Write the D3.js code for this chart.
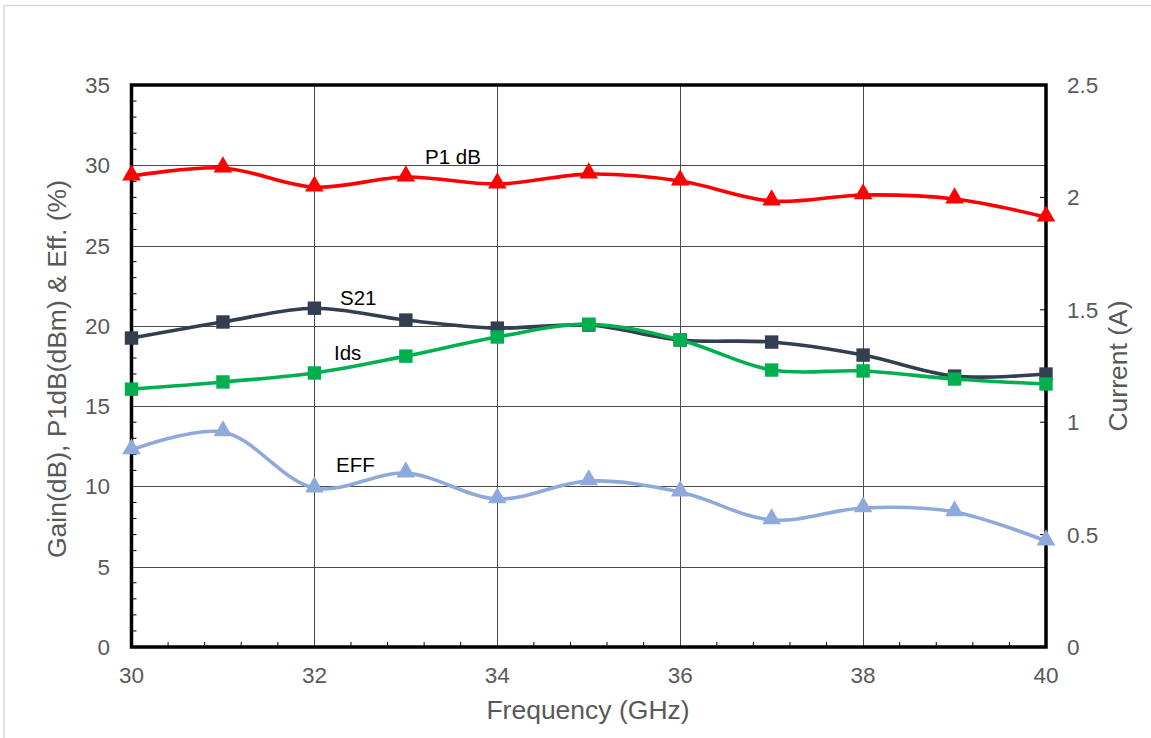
<!DOCTYPE html>
<html><head><meta charset="utf-8">
<script src="https://cdn.jsdelivr.net/npm/d3@7"></script>
<style>body{margin:0;background:#fff;}svg{display:block;font-family:Arial,"Liberation Sans",sans-serif;}</style>
</head><body>
<svg id="c" width="1151" height="738"></svg>
<script>
const freq = [30,31,32,33,34,35,36,37,38,39,40];
const p1db = [29.33,29.83,28.64,29.27,28.83,29.45,29.02,27.77,28.15,27.9,26.77];
const s21  = [19.24,20.24,21.1,20.36,19.86,20.05,19.12,18.99,18.18,16.87,17.0];
const ids  = [1.147,1.179,1.219,1.294,1.379,1.436,1.366,1.232,1.228,1.192,1.17];
const eff  = [12.27,13.39,9.9,10.83,9.22,10.34,9.65,7.91,8.66,8.41,6.6];
const leftTicks = [0,5,10,15,20,25,30,35];
const rightTicks = [0,0.5,1,1.5,2,2.5];
const xTicks = [30,32,34,36,38,40];

const svg = d3.select("#c");
const L=131.5, R=1046, T=85, B=647;
const x = d3.scaleLinear().domain([30,40]).range([L,R]);
const yl = d3.scaleLinear().domain([0,35]).range([B,T]);
const yr = d3.scaleLinear().domain([0,2.5]).range([B,T]);

// outer border
svg.append("path").attr("d","M4,745V5.5H1160").attr("fill","none").attr("stroke","#d9d9d9").attr("stroke-width",1.5);

const g = svg.append("g");
// gridlines
g.selectAll(".hg").data(leftTicks.filter(d=>d>0&&d<35)).join("line")
  .attr("x1",L).attr("x2",R).attr("y1",d=>Math.round(yl(d))+0.5).attr("y2",d=>Math.round(yl(d))+0.5)
  .attr("stroke","#4a4a4a").attr("stroke-width",1);
g.selectAll(".vg").data(xTicks.filter(d=>d>30&&d<40)).join("line")
  .attr("y1",T).attr("y2",B).attr("x1",d=>Math.round(x(d))+0.5).attr("x2",d=>Math.round(x(d))+0.5)
  .attr("stroke","#4a4a4a").attr("stroke-width",1);

// minor ticks left (every 1)
const lm = d3.range(1,35).filter(d=>d%5!==0);
g.selectAll(".lm").data(lm).join("line")
  .attr("x1",L).attr("x2",L+5).attr("y1",d=>yl(d)).attr("y2",d=>yl(d)).attr("stroke","#000").attr("stroke-width",1);
// minor ticks bottom (every 0.4)
const bm = d3.range(0,25).map(i=>30+i*0.4).filter((d,i)=>i%5!==0);
g.selectAll(".bm").data(bm).join("line")
  .attr("x1",d=>x(d)).attr("x2",d=>x(d)).attr("y1",B).attr("y2",B-5).attr("stroke","#000").attr("stroke-width",1);
// right ticks
g.selectAll(".rt").data(rightTicks.filter(d=>d>0&&d<2.5)).join("line")
  .attr("x1",R).attr("x2",R-6).attr("y1",d=>yr(d)).attr("y2",d=>yr(d)).attr("stroke","#000").attr("stroke-width",1);

// frame
g.append("rect").attr("x",L).attr("y",T).attr("width",R-L).attr("height",B-T)
  .attr("fill","none").attr("stroke","#000").attr("stroke-width",3.5);

// tick labels
const tc="#595959";
const tf=22.5;
g.selectAll(".ltl").data(leftTicks).join("text").attr("x",110).attr("y",d=>yl(d)+8)
  .attr("text-anchor","end").attr("font-size",tf).attr("fill",tc).text(d=>d);
g.selectAll(".rtl").data(rightTicks).join("text").attr("x",1067).attr("y",d=>yr(d)+8)
  .attr("text-anchor","start").attr("font-size",tf).attr("fill",tc).text(d=>d);
g.selectAll(".xtl").data(xTicks).join("text").attr("x",d=>x(d)).attr("y",683)
  .attr("text-anchor","middle").attr("font-size",tf).attr("fill",tc).text(d=>d);

// axis titles
const af=26.5;
svg.append("text").attr("transform","translate(66,369) rotate(-90)").attr("text-anchor","middle")
  .attr("font-size",af).attr("fill",tc).text("Gain(dB), P1dB(dBm) & Eff. (%)");
svg.append("text").attr("transform","translate(1127,366) rotate(-90)").attr("text-anchor","middle")
  .attr("font-size",af).attr("fill",tc).text("Current (A)");
svg.append("text").attr("x",588).attr("y",719).attr("text-anchor","middle")
  .attr("font-size",af).attr("fill",tc).text("Frequency (GHz)");

// series
const curve = d3.curveCatmullRom.alpha(0.5);
function series(vals, ys, color, marker){
  const pts = freq.map((f,i)=>[x(f), ys(vals[i])]);
  svg.append("path").attr("d", d3.line().curve(curve)(pts)).attr("fill","none")
    .attr("stroke",color).attr("stroke-width",3.6);
  const sym = marker==="tri" ? d3.symbolTriangle : d3.symbolSquare;
  const size = marker==="tri" ? 150 : 180;
  svg.append("g").selectAll("path").data(pts).join("path")
    .attr("transform",d=>`translate(${d[0]},${d[1]+(marker==="tri"?-1:0)})`)
    .attr("d", d3.symbol().type(sym).size(size)).attr("fill",color);
}
series(p1db, yl, "#ff0000", "tri");
series(s21, yl, "#333f50", "sq");
series(ids, yr, "#00b050", "sq");
series(eff, yl, "#8eaadb", "tri");

// series labels
const lab = [["P1 dB",425,164],["S21",340,305],["Ids",334,360],["EFF",336,472]];
svg.selectAll(".sl").data(lab).join("text").attr("x",d=>d[1]).attr("y",d=>d[2])
  .attr("font-size",20.5).attr("fill","#000").text(d=>d[0]);
</script>
</body></html>
